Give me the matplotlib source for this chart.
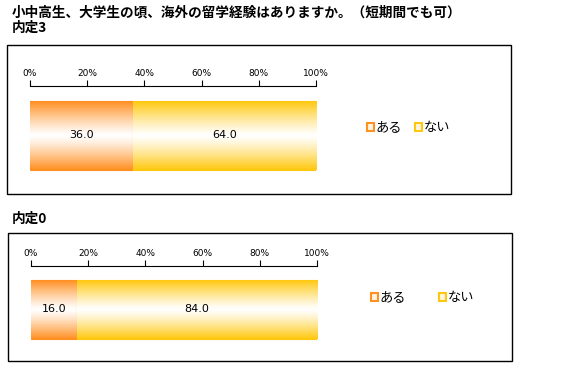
import numpy as np
import matplotlib.pyplot as plt
from matplotlib.patches import Rectangle, Patch

plt.rcParams['font.family'] = ['Noto Sans CJK JP', 'DejaVu Sans']

# データ
title = "小中高生、大学生の頃、海外の留学経験はありますか。（短期間でも可）"
groups = ["内定3", "内定0"]
labels = ["ある", "ない"]
values = [[36.0, 64.0], [16.0, 84.0]]
ticks = [0, 20, 40, 60, 80, 100]
tick_labels = ["0%", "20%", "40%", "60%", "80%", "100%"]

colors = ["#ff9022", "#ffc810"]

W, H = 570, 366
fig = plt.figure(figsize=(W / 100, H / 100), dpi=100)
fig.patch.set_facecolor("white")

def fx(px):
    return px / W

def fy(py):
    return 1 - py / H

fig.text(fx(12), fy(13), title, fontsize=9.8, fontweight="bold", va="center", ha="left")

# パネルの配置 (px)
panels = [
    dict(head=28, box=(7, 45, 511, 194), ax=(30, 316, 86, 178), bar=(101, 170), leg=(368, 128), colsp=1.0),
    dict(head=219, box=(8, 233, 512, 361), ax=(31, 317, 266, 347), bar=(280, 339), leg=(372, 298), colsp=2.5),
]

def gradient(c):
    rgb = np.array(plt.matplotlib.colors.to_rgb(c))
    t = np.linspace(-1, 1, 100)
    w = np.abs(t) ** 1.2
    img = (1 - w)[:, None] * np.ones(3) + w[:, None] * rgb
    return img[:, None, :]

for g, vals, p in zip(groups, values, panels):
    fig.text(fx(12), fy(p["head"]), g, fontsize=9.8, fontweight="bold", va="center", ha="left")
    x0, y0, x1, y1 = p["box"]
    fig.add_artist(Rectangle((fx(x0), fy(y1)), fx(x1 - x0), (y1 - y0) / H,
                             fill=False, edgecolor="black", lw=1, transform=fig.transFigure))
    ax_l, ax_r, ax_t, ax_b = p["ax"]
    ax = fig.add_axes([fx(ax_l), fy(ax_b), fx(ax_r - ax_l), (ax_b - ax_t) / H])
    ax.set_xlim(0, 100)
    ax.set_ylim(0, 1)
    bt, bb = p["bar"]
    b_top = (ax_b - bt) / (ax_b - ax_t)
    b_bot = (ax_b - bb) / (ax_b - ax_t)
    left = 0
    for v, c in zip(vals, colors):
        rect = ax.barh((b_top + b_bot) / 2, v, height=b_top - b_bot, left=left,
                       color="none", edgecolor=c, lw=0.8)[0]
        im = ax.imshow(gradient(c), extent=(left, left + v, b_bot, b_top),
                       aspect="auto", zorder=1, interpolation="bilinear")
        im.set_clip_path(rect)
        ax.text(left + v / 2, (b_top + b_bot) / 2, f"{v:.1f}", ha="center", va="center",
                fontsize=8, family=["DejaVu Sans"])
        left += v
    ax.set_xlim(0, 100)
    ax.set_ylim(0, 1)
    for s in ["left", "right", "bottom"]:
        ax.spines[s].set_visible(False)
    ax.spines["top"].set_linewidth(0.8)
    ax.xaxis.tick_top()
    ax.set_xticks(ticks)
    ax.set_xticklabels(tick_labels, fontsize=6.5, family=["DejaVu Sans Condensed", "DejaVu Sans"])
    ax.tick_params(axis="x", length=4, width=0.8, pad=2)
    ax.set_yticks([])
    lx, ly = p["leg"]
    handles = [Patch(facecolor="#fff4e0", edgecolor=c, lw=1.5) for c in colors]
    fig.legend(handles, labels, loc="center left", bbox_to_anchor=(fx(lx - 1), fy(ly)),
               ncol=2, frameon=False, fontsize=9.5, handlelength=0.5, handleheight=0.5,
               handletextpad=0.15, columnspacing=p["colsp"], borderaxespad=0, borderpad=0)

fig.savefig("out.png", dpi=100)
